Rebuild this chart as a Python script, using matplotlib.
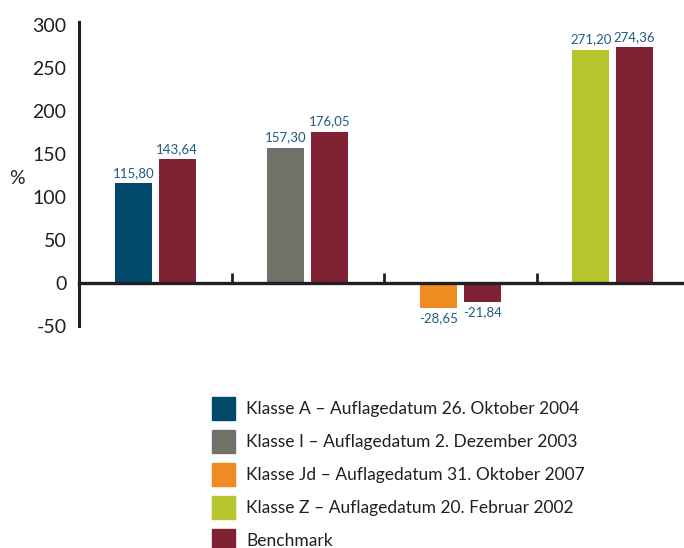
import matplotlib
matplotlib.use("Agg")
import matplotlib.pyplot as plt
from matplotlib.patches import Patch
import numpy as np

plt.rcParams['font.family'] = ['Lato', 'DejaVu Sans']

categories = ["Klasse A", "Klasse I", "Klasse Jd", "Klasse Z"]
class_values = [115.80, 157.30, -28.65, 271.20]
benchmark_values = [143.64, 176.05, -21.84, 274.36]
class_colors = ["#00496A", "#717168", "#EE8C22", "#B5C52B"]
bench_color = "#7F2233"
legend_labels = [
    "Klasse A \u2013 Auflagedatum 26. Oktober 2004",
    "Klasse I \u2013 Auflagedatum 2. Dezember 2003",
    "Klasse Jd \u2013 Auflagedatum 31. Oktober 2007",
    "Klasse Z \u2013 Auflagedatum 20. Februar 2002",
    "Benchmark",
]
yticks = [-50, 0, 50, 100, 150, 200, 250, 300]

def fmt(v):
    return f"{v:.2f}".replace(".", ",")

fig = plt.figure(figsize=(6.84, 5.48), dpi=100)
ax = fig.add_axes([79/684, 1-326/548, 1-79/684, (326-22)/548])

x = np.arange(len(categories))
w = 0.243
off = 0.144
lab_col = "#1F5C7E"
txt_col = "#231F20"
for i in range(len(categories)):
    for xv, v, c in [(x[i]-off, class_values[i], class_colors[i]), (x[i]+off, benchmark_values[i], bench_color)]:
        ax.bar(xv, v, width=w, color=c, zorder=2)
        if v >= 0:
            ax.text(xv, v + 5, fmt(v), ha='center', va='bottom', fontsize=9.5, color=lab_col)
        else:
            ax.text(xv, v - 5, fmt(v), ha='center', va='top', fontsize=9.5, color=lab_col)

ax.set_xlim(-0.5, 3.5 - 5/152.5)
ax.set_ylim(-47.5, 303.5)
ax.set_yticks(yticks)
ax.set_yticklabels([str(t) for t in yticks], fontsize=14, color=txt_col)
ax.tick_params(axis='y', length=0, pad=9)
ax.spines['top'].set_visible(False)
ax.spines['right'].set_visible(False)
ax.spines['left'].set_linewidth(2.2)
ax.spines['left'].set_color(txt_col)
ax.spines['bottom'].set_position(('data', 0))
ax.spines['bottom'].set_linewidth(2.4)
ax.spines['bottom'].set_color(txt_col)
ax.spines['bottom'].set_zorder(3)
ax.set_xticks([0.5, 1.5, 2.5])
ax.set_xticklabels([])
ax.tick_params(axis='x', direction='in', length=7, width=2, color=txt_col)
ax.set_ylabel("%", fontsize=14, rotation=0, color=txt_col, va='center', ha='center')
ax.yaxis.set_label_coords(-0.103, (123+47.5)/351)

handles = [Patch(color=c) for c in class_colors] + [Patch(color=bench_color)]
fig.legend(handles, legend_labels, loc='upper left', bbox_to_anchor=(212/684, 1-397/548),
           frameon=False, fontsize=12.5, handlelength=1.325, handleheight=1.66,
           labelspacing=0.57, handletextpad=0.63, borderaxespad=0, borderpad=0,
           labelcolor=txt_col)

fig.savefig("out.png", dpi=100)
